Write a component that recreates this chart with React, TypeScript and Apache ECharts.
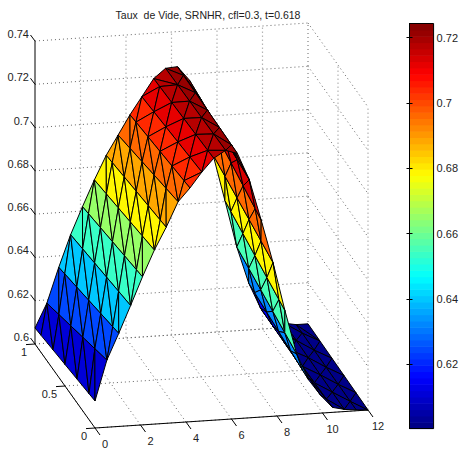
import React, { useEffect, useRef } from "react";
import * as echarts from "echarts";

const titleText = "Taux  de Vide, SRNHR, cfl=0.3, t=0.618";
const FONT = '"Liberation Sans Narrow", "Liberation Sans", Arial, sans-serif';

const zTicks = [0.6, 0.62, 0.64, 0.66, 0.68, 0.7, 0.72, 0.74];
const zTickLabels = ["0.6", "0.62", "0.64", "0.66", "0.68", "0.7", "0.72", "0.74"];
const xTicks = [0, 2, 4, 6, 8, 10, 12];
const yTicks = [0, 0.5, 1];
const yTickLabels = ["0", "0.5", "1"];
const barTicks = [0.62, 0.64, 0.66, 0.68, 0.7, 0.72];
const climMin = 0.6004;
const climMax = 0.7243;

// surface height along the y=1 edge, one value per row of nodes
const zBack = [0.6074, 0.6185, 0.6347, 0.6494, 0.662, 0.674, 0.685, 0.694, 0.703, 0.711, 0.719, 0.7234,
  0.7238, 0.7173, 0.705, 0.682, 0.6605, 0.6387, 0.6217, 0.6097, 0.6014, 0.602, 0.601, 0.601];
// surface height along the y=0 edge
const zFront = [0.6125, 0.631, 0.643, 0.6555, 0.6684, 0.6804, 0.6906, 0.702, 0.708, 0.715, 0.721, 0.7243,
  0.7225, 0.71, 0.691, 0.671, 0.6485, 0.628, 0.6157, 0.6083, 0.6023, 0.601, 0.6004, 0.6];
// colour value of each strip between two node rows
const stripValues = [0.6115, 0.624, 0.64, 0.6535, 0.666, 0.678, 0.688, 0.696, 0.7045, 0.7119, 0.7175, 0.7206,
  0.7235, 0.714, 0.697, 0.678, 0.655, 0.632, 0.615, 0.604, 0.6012, 0.6012, 0.6012];
// how far the zigzag of each strip leans along y
const stripLean = [0.2, 0.2, 0.2, 0.2, 0.2, 0.2, 0.2, 0.2, 0.1, 0, 0, 0,
  0, 0.2, 0.2, 0.2, 0.2, 0.2, 0.2, 0, 0, 0, 0];
const yEvenRow = [0, 0.2, 0.4, 0.6, 0.8, 1];
const yOddRow = [0, 0.1, 0.3, 0.5, 0.7, 0.9, 1];

const ORIGIN = [95, 428];
const XVEC = [273, -18];
const YVEC = [-60, -84];
const ZH = 303;
const XMAX = 12;

function project(x: number, y: number, z: number): [number, number] {
  const u = x / XMAX;
  const h = ((z - 0.6) / 0.14) * ZH;
  return [ORIGIN[0] + u * XVEC[0] + y * YVEC[0], ORIGIN[1] + u * XVEC[1] + y * YVEC[1] - h];
}

function jet(value: number): string {
  let idx = Math.floor(((value - climMin) / (climMax - climMin)) * 64);
  idx = Math.max(0, Math.min(63, idx));
  const v = (idx + 0.5) / 64;
  const c = (t: number) => Math.round(255 * Math.max(0, Math.min(1, t)));
  return `rgb(${c(1.5 - Math.abs(4 * v - 3))},${c(1.5 - Math.abs(4 * v - 2))},${c(1.5 - Math.abs(4 * v - 1))})`;
}

type Tri = { pts: [number, number][]; color: string };

function buildTriangles(): Tri[] {
  const rows = zBack.length;
  const node = (k: number, y: number) => {
    const x = (k / (rows - 1)) * XMAX;
    return project(x, y, zFront[k] * (1 - y) + zBack[k] * y);
  };
  const tris: Tri[] = [];
  for (let k = rows - 2; k >= 0; k--) {
    const a = k % 2 === 0 ? yOddRow : yEvenRow;
    const b = k % 2 === 0 ? yEvenRow : yOddRow;
    const color = jet(stripValues[k]);
    const lean = stripLean[k];
    const list: Tri[] = [];
    let i = 0;
    let j = 0;
    while (i < a.length - 1 || j < b.length - 1) {
      const advA = j >= b.length - 1 || (i < a.length - 1 && a[i + 1] + lean <= b[j + 1] + 1e-6);
      if (advA) {
        list.push({ pts: [node(k, a[i]), node(k, a[i + 1]), node(k + 1, b[j])], color });
        i++;
      } else {
        list.push({ pts: [node(k, a[i]), node(k + 1, b[j]), node(k + 1, b[j + 1])], color });
        j++;
      }
    }
    list.reverse();
    tris.push(...list);
  }
  return tris;
}

type Seg = { a: [number, number]; b: [number, number]; stroke: string; width: number; dash?: number[] };
type Lab = { p: [number, number]; text: string; align: string };

function buildGrid(): Seg[] {
  const out: Seg[] = [];
  const dark = { stroke: "#666", width: 1, dash: [1, 3] };
  const light = { stroke: "#b5b5b5", width: 1.2, dash: [1.5, 2.5] };
  zTicks.forEach((z) => {
    out.push({ a: project(0, 1, z), b: project(XMAX, 1, z), ...dark });
    out.push({ a: project(XMAX, 1, z), b: project(XMAX, 0, z), ...dark });
  });
  xTicks.forEach((x) => {
    if (x > 0) out.push({ a: project(x, 1, 0.6), b: project(x, 1, 0.74), ...(x === XMAX ? dark : light) });
    out.push({ a: project(x, 0, 0.6), b: project(x, 1, 0.6), ...dark });
  });
  yTicks.forEach((y) => {
    if (y < 1) out.push({ a: project(XMAX, y, 0.6), b: project(XMAX, y, 0.74), ...light });
    out.push({ a: project(0, y, 0.6), b: project(XMAX, y, 0.6), ...dark });
  });
  return out;
}

function shift(p: [number, number], dx: number, dy: number): [number, number] {
  return [p[0] + dx, p[1] + dy];
}

function buildAxes(): { segs: Seg[]; labs: Lab[] } {
  const segs: Seg[] = [];
  const labs: Lab[] = [];
  const ink = { stroke: "#000", width: 1 };
  segs.push({ a: project(0, 1, 0.74), b: project(0, 1, 0.6), ...ink });
  segs.push({ a: project(0, 1, 0.6), b: project(0, 0, 0.6), ...ink });
  segs.push({ a: project(0, 0, 0.6), b: project(XMAX, 0, 0.6), ...ink });
  zTicks.forEach((z, i) => {
    const p = project(0, 1, z);
    segs.push({ a: p, b: shift(p, -4.5, -6), ...ink });
    labs.push({ p: shift(p, -6, -7), text: zTickLabels[i], align: "right" });
  });
  xTicks.forEach((x) => {
    const p = project(x, 0, 0.6);
    segs.push({ a: p, b: shift(p, 5, 7), ...ink });
    labs.push({ p: shift(p, 10, 16), text: String(x), align: "center" });
  });
  yTicks.forEach((y, i) => {
    const p = project(0, y, 0.6);
    segs.push({ a: p, b: shift(p, -9, 0.6), ...ink });
    labs.push({ p: shift(p, -8, 8), text: yTickLabels[i], align: "right" });
  });
  return { segs, labs };
}

const barLevels = Array.from({ length: 64 }, (_, i) => i);

function App() {
  const ref = useRef<HTMLDivElement>(null);
  useEffect(() => {
    const chart = echarts.init(ref.current!, undefined, { renderer: "svg" });
    const tris = buildTriangles();
    const gridSegs = buildGrid();
    const axes = buildAxes();
    const lineEl = (api: any, s: Seg) => {
      const p1 = api.coord(s.a);
      const p2 = api.coord(s.b);
      return {
        type: "line",
        shape: { x1: p1[0], y1: p1[1], x2: p2[0], y2: p2[1] },
        style: { stroke: s.stroke, lineWidth: s.width, lineDash: s.dash || null, fill: null },
      };
    };
    const option: any = {
      animation: false,
      backgroundColor: "#fff",
      title: {
        text: titleText,
        left: 203,
        top: 4,
        textAlign: "center",
        textStyle: { fontFamily: FONT, fontSize: 10.5, fontWeight: "normal", color: "#222" },
      },
      grid: [
        { left: 0, top: 0, width: 461, height: 451 },
        { left: 409.5, top: 23.5, width: 31, height: 405 },
      ],
      xAxis: [
        { type: "value", gridIndex: 0, min: 0, max: 461, show: false },
        { type: "value", gridIndex: 1, min: 0, max: 1, show: false },
      ],
      yAxis: [
        { type: "value", gridIndex: 0, min: 0, max: 451, inverse: true, show: false },
        {
          type: "value",
          gridIndex: 1,
          min: climMin,
          max: climMax,
          position: "right",
          z: 10,
          splitLine: { show: false },
          axisLine: { show: true, lineStyle: { color: "#000" } },
          axisTick: { show: true, inside: true, length: 3, customValues: barTicks, lineStyle: { color: "#000" } },
          axisLabel: {
            show: true,
            margin: 3,
            customValues: barTicks,
            formatter: (v: number) => String(Number(v.toFixed(2))),
            fontFamily: FONT,
            fontSize: 11,
            color: "#222",
          },
        },
        {
          type: "value",
          gridIndex: 1,
          min: climMin,
          max: climMax,
          position: "left",
          z: 10,
          splitLine: { show: false },
          axisLine: { show: true, lineStyle: { color: "#000" } },
          axisTick: { show: true, inside: true, length: 3, customValues: barTicks, lineStyle: { color: "#000" } },
          axisLabel: { show: false },
        },
      ],
      series: [
        {
          type: "custom",
          name: "grid",
          xAxisIndex: 0,
          yAxisIndex: 0,
          clip: false,
          silent: true,
          data: gridSegs.map((_, i) => [i, 0]),
          renderItem: (params: any, api: any) => lineEl(api, gridSegs[params.dataIndex]),
        },
        {
          type: "custom",
          name: "surface",
          xAxisIndex: 0,
          yAxisIndex: 0,
          clip: false,
          silent: true,
          data: tris.map((_, i) => [i, 0]),
          renderItem: (params: any, api: any) => {
            const t = tris[params.dataIndex];
            return {
              type: "polygon",
              shape: { points: t.pts.map((p) => api.coord(p)) },
              style: { fill: t.color, stroke: "#000", lineWidth: 1, lineJoin: "round" },
            };
          },
        },
        {
          type: "custom",
          name: "axes",
          xAxisIndex: 0,
          yAxisIndex: 0,
          clip: false,
          silent: true,
          data: axes.segs.map((_, i) => [i, 0]),
          renderItem: (params: any, api: any) => lineEl(api, axes.segs[params.dataIndex]),
        },
        {
          type: "custom",
          name: "labels",
          xAxisIndex: 0,
          yAxisIndex: 0,
          clip: false,
          silent: true,
          data: axes.labs.map((_, i) => [i, 0]),
          renderItem: (params: any, api: any) => {
            const l = axes.labs[params.dataIndex];
            const p = api.coord(l.p);
            return {
              type: "text",
              style: {
                x: p[0],
                y: p[1],
                text: l.text,
                align: l.align,
                verticalAlign: "middle",
                font: `11px ${FONT}`,
                fill: "#222",
              },
            };
          },
        },
        {
          type: "custom",
          name: "colorbar",
          xAxisIndex: 1,
          yAxisIndex: 1,
          silent: true,
          clip: false,
          data: barLevels.map((i) => [0, climMin + ((i + 0.5) / 64) * (climMax - climMin)]),
          renderItem: (params: any, api: any) => {
            const i = params.dataIndex;
            const step = (climMax - climMin) / 64;
            const lo = climMin + i * step;
            const p0 = api.coord([0, lo]);
            const p1 = api.coord([1, lo + step]);
            return {
              type: "rect",
              shape: { x: p0[0], y: p1[1], width: p1[0] - p0[0], height: p0[1] - p1[1] + 0.6 },
              style: { fill: jet(lo + step / 2) },
            };
          },
        },
        {
          type: "custom",
          name: "colorbarBorder",
          xAxisIndex: 1,
          yAxisIndex: 1,
          silent: true,
          clip: false,
          z: 11,
          data: [[0, climMin]],
          renderItem: (_: any, api: any) => {
            const p0 = api.coord([0, climMin]);
            const p1 = api.coord([1, climMax]);
            return {
              type: "rect",
              shape: { x: p0[0], y: p1[1], width: p1[0] - p0[0], height: p0[1] - p1[1] },
              style: { fill: "none", stroke: "#000", lineWidth: 1 },
            };
          },
        },
      ],
    };
    chart.setOption(option);
    return () => chart.dispose();
  }, []);
  return <div ref={ref} style={{ position: "fixed", left: 0, top: 0, width: 461, height: 451 }} />;
}

export default App;
